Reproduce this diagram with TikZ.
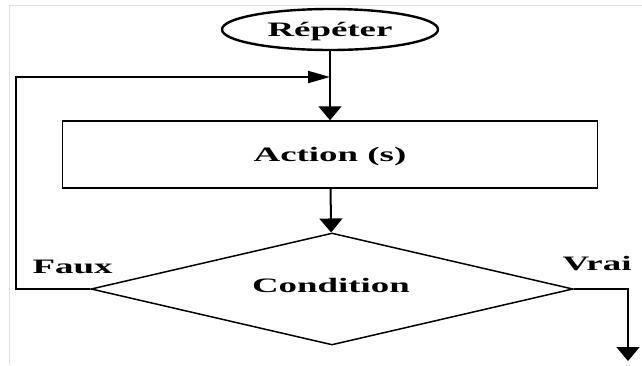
\documentclass[tikz,border=0pt]{standalone}
\usepackage{fontspec}
\setmainfont{Liberation Serif}
\usepackage{graphicx}
\usetikzlibrary{arrows.meta,positioning,shapes.geometric,calc}
\definecolor{cadre}{RGB}{226,226,226}
\newcommand{\etiq}[1]{\scalebox{1.8}[1]{\bfseries #1}}

\begin{document}
\begin{tikzpicture}[x=1pt,y=-1pt,
    font=\fontsize{20.5}{24}\selectfont,
    bloc/.style={draw,line width=1.5pt,inner sep=0pt,text depth=0pt},
    texte/.style={inner sep=0pt,text depth=0pt},
    fleche/.style={line width=2pt,-{Triangle[length=14pt,width=23pt]}},
    retour/.style={line width=2pt,-{Triangle[length=22pt,width=12pt]}}]
    \useasboundingbox (0,0) rectangle (642,365);
    % cadre de la capture
    \draw[cadre,line width=1pt] (9,365) -- (9,5) -- (642,5);
    % blocs
    \node[bloc,ellipse,line width=2.4pt,minimum width=216pt,minimum height=41pt] (repeter) at (330,29.5) {\etiq{Répéter}};
    \node[bloc,rectangle,minimum width=535pt,minimum height=67pt] (action) at (330,154.5) {\etiq{Action (s)}};
    \node[bloc,diamond,minimum width=482pt,minimum height=112pt] (cond) at (332,289) {};
    \node[texte] (condtxt) at (331,285) {\etiq{Condition}};
    % sorties
    \node[texte] (faux) at (72.5,267) {\etiq{Faux}};
    \node[texte] (vrai) at (597,263.5) {\etiq{Vrai}};
    \coordinate (jonction) at (repeter.south |- 0,77);
    \coordinate (sortie) at (628,361);
    % fleches
    \draw[fleche] (repeter) -- (action);
    \draw[fleche] (action) -- (cond);
    \draw[retour] (cond.west) -- ++(-74,0) |- (jonction);
    \draw[fleche] (cond.east) -| (sortie);
\end{tikzpicture}
\end{document}
